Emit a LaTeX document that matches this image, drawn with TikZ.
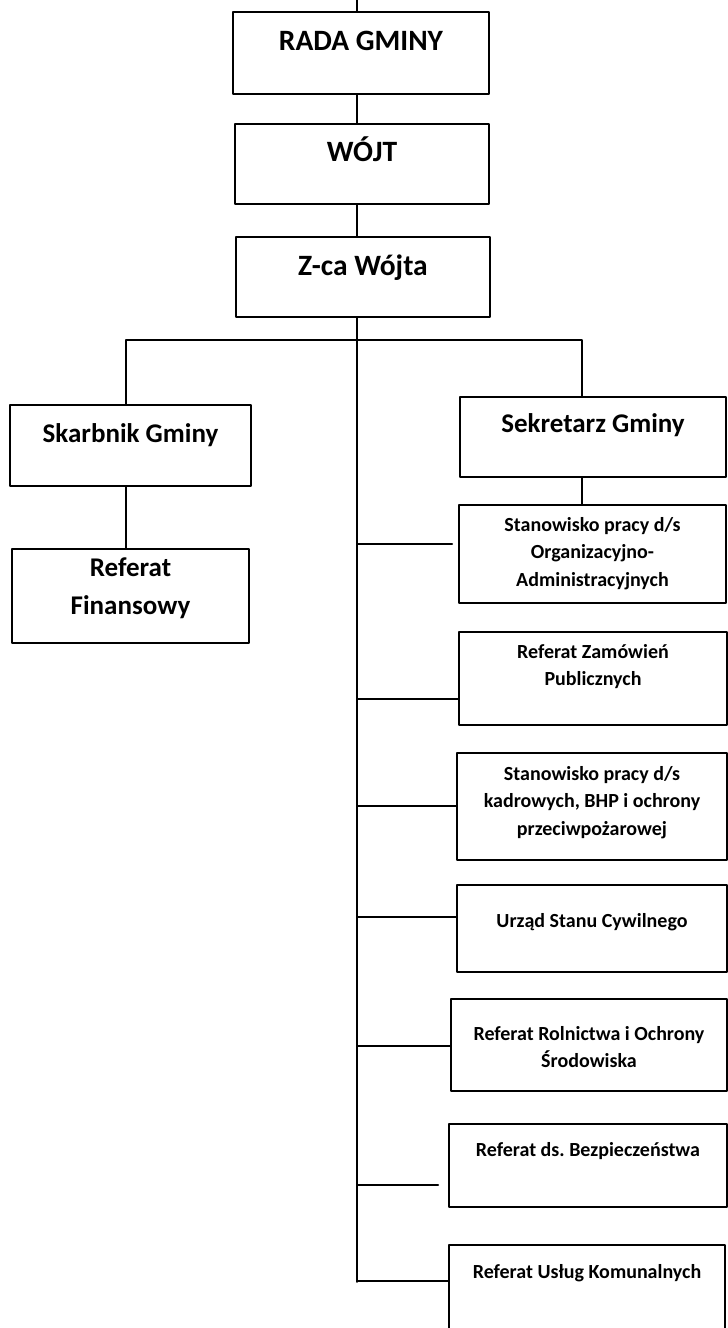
\documentclass[tikz,border=0pt]{standalone}
\usepackage{fontspec}
\setmainfont{Carlito}
\begin{document}
\begin{tikzpicture}[x=1pt, y=-1pt, line join=round, line cap=round, line width=1.8pt,
    box/.style={draw, rectangle, inner sep=0pt},
    headtxt/.style={anchor=north, inner sep=0pt, yshift=-#1pt, align=center,
      font=\fontsize{27}{38}\selectfont\bfseries, execute at begin node=\strut},
    toptxt/.style={headtxt=#1, font=\fontsize{29.5}{38}\selectfont\bfseries},
    unittxt/.style={anchor=north, inner sep=0pt, yshift=-#1pt, align=center,
      font=\fontsize{20}{27.5}\selectfont\bfseries, execute at begin node=\strut}]
  \useasboundingbox (0,0) rectangle (728,1328);
  %\tikzset{every label/.style={text=black}}
  \node[box, minimum width=256pt, minimum height=82pt, label={[toptxt=12]north:RADA GMINY}] (rada) at (361,53) {};
  \node[box, minimum width=254pt, minimum height=80pt, label={[toptxt=11]north:WÓJT}] (wojt) at (362,164) {};
  \node[box, minimum width=254pt, minimum height=80pt, label={[toptxt=12]north:Z-ca Wójta}] (zca) at (363,277) {};
  \node[box, minimum width=241pt, minimum height=81pt, label={[headtxt=11]north:Skarbnik Gminy}] (skarbnik) at (130.5,445.5) {};
  \node[box, minimum width=237pt, minimum height=94pt, label={[headtxt=9]north:Referat\\Finansowy}] (finansowy) at (130.5,596) {};
  \node[box, minimum width=266pt, minimum height=80pt, label={[headtxt=9]north:Sekretarz Gminy}] (sekretarz) at (593,437) {};
  \node[box, minimum width=267pt, minimum height=98pt, label={[unittxt=12]north:Stanowisko pracy d/s\\Organizacyjno-\\Administracyjnych}] (orgadm) at (592.5,554) {};
  \node[box, minimum width=268pt, minimum height=93pt, label={[unittxt=12]north:Referat Zamówień\\Publicznych}] (zamowien) at (593,678.5) {};
  \node[box, minimum width=270pt, minimum height=107pt, label={[unittxt=13]north:{Stanowisko pracy d/s\\kadrowych, BHP i ochrony\\przeciwpożarowej}}] (kadry) at (592,806.5) {};
  \node[box, minimum width=270pt, minimum height=87pt, label={[unittxt=23]north:Urząd Stanu Cywilnego}] (usc) at (592,928.5) {};
  \node[box, minimum width=276pt, minimum height=92pt, label={[unittxt=27]north:Referat Rolnictwa i Ochrony\\Środowiska}] (rolnictwo) at (589,1045) {};
  \node[box, minimum width=278pt, minimum height=83pt, label={[unittxt=13]north:Referat ds.\ Bezpieczeństwa}] (bezp) at (588,1165.5) {};
  \node[box, minimum width=276pt, minimum height=94pt, label={[unittxt=14]north:Referat Usług Komunalnych}] (uslugi) at (587,1292) {};
  \coordinate (top) at (357,0);
  \coordinate (bot) at (357,1282);
  \coordinate (lbr) at (126,340);
  \coordinate (rbr) at (582,340);
  \draw (top) -- (top |- rada.north) (top |- rada.south) -- (top |- wojt.north)
    (top |- wojt.south) -- (top |- zca.north) (top |- zca.south) -- (bot);
  \draw (lbr |- skarbnik.north) -- (lbr) -- (rbr) -- (rbr |- sekretarz.north);
  \draw (lbr |- skarbnik.south) -- (lbr |- finansowy.north);
  \draw (rbr |- sekretarz.south) -- (rbr |- orgadm.north);
  \foreach \y/\n/\gap in {544/orgadm/6, 699/zamowien/0, 806/kadry/0, 917/usc/0,
      1046/rolnictwo/0, 1185/bezp/10, 1281/uslugi/0}
    \draw[shorten >=\gap pt] (bot |- 0,\y) -- (\n.west |- 0,\y);
\end{tikzpicture}
\end{document}
